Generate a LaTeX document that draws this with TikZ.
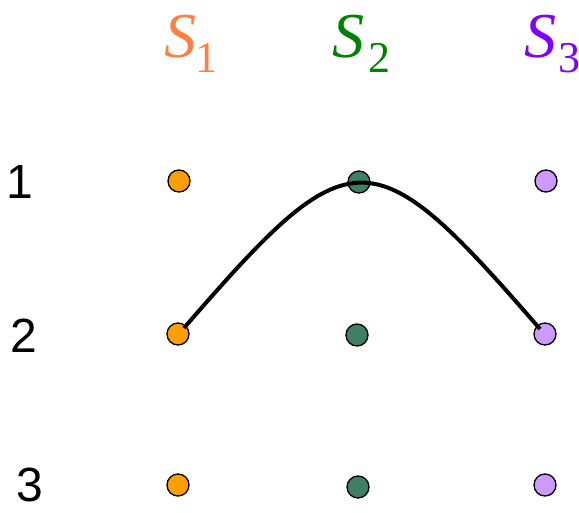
\documentclass[tikz,border=0pt]{standalone}
\usepackage{fontspec}
\setmainfont{Liberation Sans}
\newfontfamily\tms{Liberation Serif}
\newfontfamily\tmsit{Liberation Serif Italic}
\definecolor{cOrT}{HTML}{FF8040}
\definecolor{cGrT}{HTML}{008000}
\definecolor{cPuT}{HTML}{8000FF}
\definecolor{cOrD}{HTML}{FF9E00}
\definecolor{cGrD}{HTML}{3D8066}
\definecolor{cPuD}{HTML}{CC99FF}
\begin{document}
\begin{tikzpicture}[x=1pt,y=-1pt,
  dotnode/.style={circle,draw=black,line width=1.3pt,minimum size=22pt,inner sep=0pt},
  rowlab/.style={anchor=base,inner sep=0pt,font=\fontsize{48}{48}\selectfont},
  sbig/.style={anchor=base west,inner sep=0pt,font=\tmsit\fontsize{64}{64}\selectfont},
  ssub/.style={anchor=base west,inner sep=0pt,font=\tms\fontsize{44}{44}\selectfont},
  curve/.style={line width=4pt,draw=black}]
\useasboundingbox (0,0) rectangle (579,512);
% column headers
\node[sbig,text=cOrT] (s1) at (164,57) {S};
\node[ssub,text=cOrT] (s1i) at (195,72) {1};
\node[sbig,text=cGrT] (s2) at (332,57) {S};
\node[ssub,text=cGrT] (s2i) at (368,72) {2};
\node[sbig,text=cPuT] (s3) at (524,57) {S};
\node[ssub,text=cPuT] (s3i) at (558,72) {3};
% row labels
\node[rowlab] (r1) at (20,198) {1};
\node[rowlab] (r2) at (24,352) {2};
\node[rowlab] (r3) at (30,501) {3};
% dots
\node[dotnode,fill=cOrD] (o1) at (179,181) {};
\node[dotnode,fill=cGrD] (g1) at (359,182) {};
\node[dotnode,fill=cPuD] (p1) at (546,181) {};
\node[dotnode,fill=cOrD] (o2) at (178,334) {};
\node[dotnode,fill=cGrD] (g2) at (357,335) {};
\node[dotnode,fill=cPuD] (p2) at (545,334) {};
\node[dotnode,fill=cOrD] (o3) at (178,485) {};
\node[dotnode,fill=cGrD] (g3) at (358,487) {};
\node[dotnode,fill=cPuD] (p3) at (545,485) {};
% curve
\draw[curve] (o2.center) ++(6,-6) coordinate (cs)
  (cs) .. controls (352,134) and (371,134) .. ([shift={(-5,-5)}]p2.center);
\end{tikzpicture}
\end{document}
